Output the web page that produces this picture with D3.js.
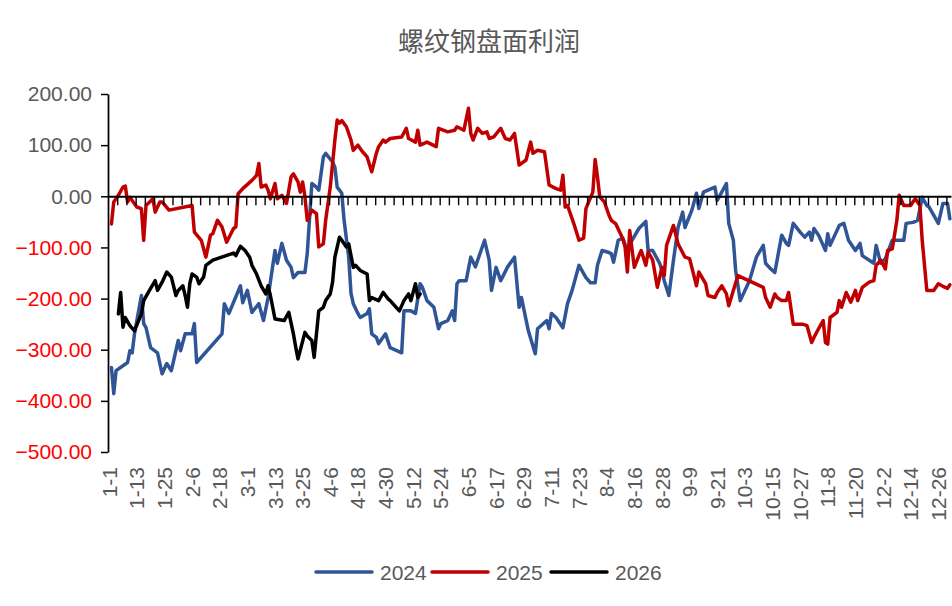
<!DOCTYPE html>
<html>
<head>
<meta charset="utf-8">
<script src="https://cdn.jsdelivr.net/npm/d3@7"></script>
<style>
  html, body { margin: 0; padding: 0; background: #fff; }
  svg { display: block; font-family: "Liberation Sans", Arial, sans-serif; }
</style>
</head>
<body>
<div id="chart"></div>
<script>
// x is the day of the year (0 = 1-1) on a 366-day category axis
const tickLabels = ["1-1", "1-13", "1-25", "2-6", "2-18", "3-1", "3-13", "3-25", "4-6", "4-18",
    "4-30", "5-12", "5-24", "6-5", "6-17", "6-29", "7-11", "7-23", "8-4", "8-16",
    "8-28", "9-9", "9-21", "10-3", "10-15", "10-27", "11-8", "11-20", "12-2", "12-14", "12-26"];

const yTicks = [-500, -400, -300, -200, -100, 0, 100, 200];

const day2024 = [1, 2, 3, 8, 9, 10, 11, 14, 15, 16, 18, 21, 23, 25, 27, 30, 31, 33, 36, 37, 38,
    49, 50, 52, 57, 58, 60, 62, 65, 67, 69, 72, 73, 75, 77, 79, 80, 82, 85, 86, 88, 90, 91, 93, 94,
    97, 98, 99, 101, 102, 104, 105, 106, 108, 109, 112, 113, 114, 116, 117, 120, 122, 127, 128, 131,
    133, 135, 136, 138, 141, 143, 144, 147, 149, 150, 151, 152, 155, 157, 159, 163, 165, 166, 168,
    170, 173, 176, 178, 179, 182, 185, 186, 190, 191, 192, 194, 197, 199, 201, 204, 207, 209, 211,
    212, 214, 217, 218, 219, 221, 223, 225, 227, 230, 233, 234, 236, 239, 240, 241, 243, 245, 247,
    249, 250, 253, 255, 256, 258, 263, 264, 268, 269, 271, 272, 274, 278, 281, 284, 285, 287, 289,
    292, 294, 295, 297, 300, 302, 304, 305, 306, 308, 311, 312, 313, 317, 319, 321, 324, 326, 327,
    330, 332, 333, 335, 337, 340, 345, 346, 349, 351, 353, 355, 356, 360, 362, 364, 365];
const val2024 = [-335, -386, -341, -325, -302, -306, -269, -194, -249, -257, -296, -306, -347, -327,
    -341, -282, -302, -269, -269, -249, -325,
    -269, -210, -229, -175, -208, -184, -227, -210, -243, -198, -106, -131, -92, -125, -139, -159,
    -149, -149, -112, 25, 18, 12, 77, 84,
    67, 57, 18, 6, -47, -119, -190, -210, -229, -237, -229, -220, -269, -276, -288, -269, -296, -306,
    -224, -224,
    -229, -171, -178, -204, -217, -259, -249, -243, -224, -243, -171, -165, -165, -119, -138, -86,
    -125, -184, -139,
    -165, -138, -119, -217, -198, -263, -308, -259, -243, -259, -229, -237, -257, -210, -184, -135,
    -159, -169, -169,
    -135, -106, -110, -112, -129, -86, -82, -106, -86, -63, -49, -106, -106, -131, -145, -165, -194,
    -125, -61,
    -31, -61, -27, 6, -24, 8, 18, -8, 25, -53, -86, -145, -204, -165, -119, -96, -131, -141, -149,
    -76, -92, -96, -53, -70, -80, -70, -86, -63, -76, -106, -73, -96, -57, -53, -86, -106, -92, -116,
    -125, -131, -96, -131, -122, -86, -86, -53, -51, -47, -2, -18, -21, -53, -14, -14, -44];

const day2025 = [1, 2, 4, 6, 7, 8, 9, 12, 14, 15, 16, 19, 20, 22, 23, 26, 36, 37, 40, 42, 44, 45,
    47, 49, 51, 54, 55, 56, 58, 62, 64, 65, 66, 68, 69, 70, 72, 73, 75, 77, 79, 80, 82, 83, 84, 85,
    86, 88, 90, 91, 93, 94, 96, 98, 99, 100, 101, 103, 105, 106, 108, 110, 112, 114, 116, 117, 119,
    120, 122, 127, 129, 130, 133, 134, 135, 138, 142, 143, 147, 150, 151, 154, 156, 157, 158, 160,
    162, 164, 165, 167, 170, 172, 174, 176, 178, 181, 183, 184, 186, 189, 191, 194, 196, 197, 198,
    199, 202, 204, 206, 207, 210, 211, 212, 213, 215, 217, 218, 220, 223, 224, 225, 226, 228, 230,
    231, 233, 234, 236, 238, 240, 241, 242, 245, 247, 250, 252, 255, 256, 259, 260, 263, 264, 266,
    268, 269, 271, 273, 284, 285, 287, 289, 290, 292, 294, 295, 297, 301, 303, 305, 306, 308, 310,
    311, 312, 313, 316, 317, 318, 320, 322, 324, 325, 327, 330, 332, 333, 335, 337, 338, 340, 342,
    343, 345, 346, 348, 349, 350, 352, 353, 355, 358, 360, 362, 364, 365];
const val2025 = [-54, -11, 2, 18, 20, -11, -2, -21, -24, -86, -18, -5, -31, -11, -11, -27, -18, -70,
    -86, -119, -76, -73,
    -47, -60, -90, -63, -60, 5, 15, 31, 41, 64, 18, 22, 12, -5, 25, -5, 2, -14, 38, 44, 28, 8, 28, -1,
    -47, -27, -34, -99, -93, -47, 18, 110, 149, 143, 148, 136, 110, 90, 100, 87, 77, 48, 84, 97, 110,
    106, 113, 116, 133, 113, 106, 129, 100, 106, 97, 133, 126, 129, 136, 129, 172, 123, 110, 133,
    123, 126, 113, 116, 133, 113, 110, 123, 61, 71, 106, 84, 90, 87, 22, 15, 12, 41, -21,
    -18, -57, -86, -82, -24, 8, 72, 38, -1, -11, -37, -47, -54, -83, -99, -148, -67, -139, -116,
    -106, -135, -109, -125, -178, -139, -155, -96, -57, -93, -119, -122, -175, -148, -171, -194,
    -198, -188, -175,
    -191, -214, -184, -155, -178, -198, -217, -191, -198, -204, -204, -188, -250, -250, -253, -286,
    -276, -259, -243,
    -286, -289, -237, -227, -204, -217, -188, -207, -184, -204, -178, -168, -165, -135, -125, -142,
    -106, -103, -47,
    2, -18, -18, -18, -11, -5, -18, -86, -184, -184, -171, -176, -180, -173];

const day2026 = [4, 5, 6, 7, 9, 11, 14, 15, 17, 20, 21, 23, 25, 27, 29, 30, 32, 33, 34, 35, 36, 38,
    39, 41, 42, 45, 54, 55, 57, 59, 61, 62, 64, 66, 68, 69, 70, 72, 76, 78, 80, 81, 82, 85, 86, 88,
    89, 91, 93, 94, 96, 97, 98, 100, 101, 103, 104, 106, 107, 109, 112, 113, 114, 117, 119, 121,
    122, 126, 128, 130, 131, 133, 134, 135];
const val2026 = [-230, -188, -256, -237, -253, -263, -230, -204, -188, -165, -184, -168, -148, -158,
    -194, -184, -175, -194, -217, -171, -152, -158,
    -171, -158, -135, -125, -111, -116, -98, -106, -119, -135, -152, -175, -191, -175, -194, -240,
    -243, -227, -269, -295, -318, -266, -273, -282,
    -315, -224, -217, -204, -191, -168, -119, -80, -86, -99, -93, -139, -135, -145, -152, -204, -198,
    -204, -188, -200,
    -204, -224, -204, -191, -204, -171, -198, -191];

const seriesNames = ["2024", "2025", "2026"];
const seriesColors = ["#2f5597", "#c00000", "#000000"];
const series = [
    {name: seriesNames[0], color: seriesColors[0], pts: day2024.map((d, i) => [d, val2024[i]])},
    {name: seriesNames[1], color: seriesColors[1], pts: day2025.map((d, i) => [d, val2025[i]])},
    {name: seriesNames[2], color: seriesColors[2], pts: day2026.map((d, i) => [d, val2026[i]])}
];

const width = 952, height = 606;
const plot = {left: 108, right: 951, top: 94, bottom: 452};
const grey = "#595959";

const svg = d3.select("#chart").append("svg")
    .attr("width", width)
    .attr("height", height);

// Scales
const x = d3.scaleBand()
    .domain(d3.range(366))
    .range([plot.left, plot.right])
    .padding(0);
const xc = d => x(d) + x.bandwidth() / 2;
// boundaries between categories, for the tick marks
const xb = d3.scaleLinear().domain([0, 366]).range([plot.left, plot.right]);

const y = d3.scaleLinear()
    .domain([-500, 200])
    .range([plot.bottom, plot.top]);

// Title
svg.append("text")
    .attr("x", 489)
    .attr("y", 51)
    .attr("text-anchor", "middle")
    .style("font-family", "'Noto Sans CJK SC', sans-serif")
    .style("font-size", "26px")
    .style("fill", grey)
    .text("螺纹钢盘面利润");

// Y axis
const yAxis = svg.append("g")
    .attr("transform", `translate(${plot.left},0)`)
    .call(d3.axisLeft(y)
        .tickValues(yTicks)
        .tickFormat(d3.format(".2f"))
        .tickSize(7)
        .tickSizeOuter(0)
        .tickPadding(9));
yAxis.select(".domain").attr("stroke", "#000").attr("stroke-width", 1.75);
yAxis.selectAll(".tick line").attr("stroke", "#000").attr("stroke-width", 1.5);
yAxis.selectAll(".tick text")
    .style("font-size", "21px")
    .attr("font-family", null)
    .attr("fill", d => d < 0 ? "#ff0000" : grey);

// Category labels along the bottom
const xLabelAxis = svg.append("g")
    .attr("transform", `translate(0,${plot.bottom})`)
    .call(d3.axisBottom(x)
        .tickValues(tickLabels.map((t, i) => i * 12))
        .tickFormat((d, i) => tickLabels[i])
        .tickSize(0));
xLabelAxis.select(".domain").remove();
xLabelAxis.selectAll(".tick text")
    .attr("transform", "rotate(-90)")
    .attr("text-anchor", "end")
    .attr("x", -15)
    .attr("y", 0)
    .attr("dy", "0.36em")
    .attr("font-family", null)
    .style("font-size", "21px")
    .attr("fill", grey);

// Lines
const line = d3.line()
    .x(d => xc(d[0]))
    .y(d => y(d[1]));

svg.append("g")
    .selectAll("path")
    .data(series)
    .enter().append("path")
    .attr("d", d => line(d.pts))
    .attr("fill", "none")
    .attr("stroke", d => d.color)
    .attr("stroke-width", 3.5)
    .attr("stroke-linejoin", "round")
    .attr("stroke-linecap", "round");

// Category axis crossing at zero, tick marks every 4 categories
const zeroAxis = svg.append("g")
    .attr("transform", `translate(0,${y(0)})`)
    .call(d3.axisBottom(xb)
        .tickValues(d3.range(4, 366, 4))
        .tickFormat("")
        .tickSize(9)
        .tickSizeOuter(0));
zeroAxis.select(".domain").attr("stroke", "#000").attr("stroke-width", 2);
zeroAxis.selectAll(".tick line").attr("stroke", "#000").attr("stroke-width", 1.4);

// Legend
const legendX = [316, 432, 551];
const legend = svg.append("g");
series.forEach((s, i) => {
    const item = legend.append("g")
        .attr("transform", `translate(${legendX[i]}, 572)`);
    item.append("line")
        .attr("x1", 0)
        .attr("x2", 56)
        .attr("y1", 0)
        .attr("y2", 0)
        .attr("stroke", s.color)
        .attr("stroke-width", 3.5)
        .attr("stroke-linecap", "round");
    item.append("text")
        .attr("x", 64)
        .attr("y", 8)
        .style("font-size", "21px")
        .style("fill", grey)
        .text(s.name);
});
</script>
</body>
</html>
